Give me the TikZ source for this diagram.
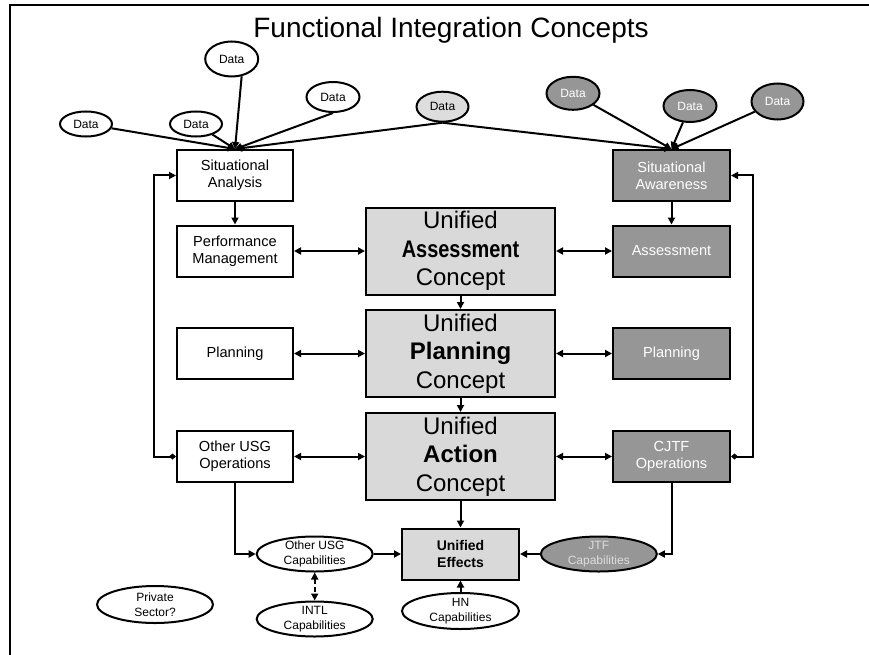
\documentclass[tikz,border=0pt]{standalone}
\usepackage{fontspec}
\usepackage{graphicx}
\setmainfont{Liberation Sans}
\usetikzlibrary{shapes.geometric,arrows.meta}
\definecolor{lgray}{RGB}{217,217,217}
\definecolor{dgray}{RGB}{150,150,150}
\definecolor{dlgray}{RGB}{221,221,221}
\begin{document}
\begin{tikzpicture}[x=1pt,y=-1pt,
  lw/.style={line width=2pt},
  box/.style={draw, lw, rectangle, inner sep=0pt, minimum width=116pt, minimum height=51pt, align=center, font=\fontsize{14.6}{17}\selectfont},
  wbox/.style={box, fill=white},
  gbox/.style={box, fill=dgray, text=white},
  cbox/.style={box, fill=lgray, minimum width=189pt, minimum height=87pt, font=\fontsize{24}{28.5}\selectfont},
  ell/.style={draw, lw, ellipse, inner xsep=0pt, inner ysep=-6pt, align=center, font=\fontsize{12}{15}\selectfont},
  data/.style={ell, fill=white, minimum width=52pt, minimum height=30pt},
  ddata/.style={data, fill=dgray, text=white},
  arr/.style={lw, -{Triangle[length=7pt,width=7pt]}},
  darr/.style={lw, {Triangle[length=7pt,width=7pt]}-{Triangle[length=7pt,width=7pt]}},
  farr/.style={lw, {Diamond[length=7pt,width=6pt]}-{Triangle[length=7pt,width=7pt]}},
]
\useasboundingbox (0,0) rectangle (869,655);
\draw[line width=2.5pt] (10,655) -- (10,5) -- (869,5);

\node[font=\fontsize{28}{32}\selectfont, anchor=base] (title) at (451,38) {Functional Integration Concepts};

% data ellipses
\node[data, minimum height=25pt] (d1) at (86,124) {Data};
\node[data, minimum height=25pt] (d2) at (196,124) {Data};
\node[data, minimum width=53pt, minimum height=35pt] (d3) at (231.7,59) {Data};
\node[data, minimum width=53pt] (d4) at (333,97) {Data};
\node[data, fill=dlgray] (d5) at (442.5,106.7) {Data};
\node[ddata, minimum width=53pt, minimum height=33pt] (d6) at (573,93.3) {Data};
\node[ddata, minimum width=53pt, minimum height=32pt] (d7) at (690,106) {Data};
\node[ddata, minimum height=36pt] (d8) at (777.5,101.5) {Data};

% left column
\node[wbox] (sa) at (235,175.5) {Situational\\Analysis};
\node[wbox] (pm) at (235,251) {Performance\\Management};
\node[wbox] (pl) at (235,353.5) {Planning};
\node[wbox] (ou) at (235,456.5) {Other USG\\Operations};

% right column
\node[gbox, minimum width=117pt] (saw) at (671.5,175.5) {Situational\\Awareness};
\node[gbox, minimum width=117pt] (asr) at (671.5,251) {Assessment};
\node[gbox, minimum width=117pt] (plr) at (671.5,353.5) {Planning};
\node[gbox, minimum width=117pt] (cj) at (671.5,456.5) {CJTF\\Operations};

% center column
\node[cbox] (ua) at (460.5,251) {Unified\\\scalebox{0.83}[1]{\bfseries Assessment}\\Concept};
\node[cbox] (up) at (460.5,353.5) {Unified\\{\bfseries Planning}\\Concept};
\node[cbox] (uac) at (460.5,456.5) {Unified\\{\bfseries Action}\\Concept};
\node[box, fill=lgray, minimum width=117pt, font=\fontsize{14}{16.7}\selectfont\bfseries] (ue) at (460.5,554) {Unified\\Effects};

% bottom ellipses
\node[ell, fill=white, minimum width=116pt, minimum height=35pt] (oc) at (314.7,554) {Other USG\\Capabilities};
\node[ell, fill=dgray, text=dlgray, minimum width=116pt, minimum height=35pt] (jc) at (598.8,554) {JTF\\Capabilities};
\node[ell, fill=white, minimum width=116pt, minimum height=35pt] (intl) at (314.7,619) {INTL\\Capabilities};
\node[ell, fill=white, minimum width=117pt, minimum height=36pt] (hn) at (460.5,611) {HN\\Capabilities};
\node[ell, fill=white, minimum width=116pt, minimum height=37pt] (ps) at (155,604.5) {Private\\Sector?};

% data connectors
\draw[arr] (d1) -- (sa.north);
\draw[arr] (d2) -- (sa.north);
\draw[arr] (d3.300) -- (sa.north);
\draw[arr] (d4.south) -- (sa.north);
\draw[arr] (d5.south) -- (sa.north);
\draw[arr] (d5.south) -- (saw.north);
\draw[arr] (d6) -- (saw.north);
\draw[arr] (d7) -- (saw.north);
\draw[arr] (d8) -- (saw.north);

% column connectors
\draw[arr] (sa) -- (pm);
\draw[arr] (saw) -- (asr);
\draw[darr] (pm) -- (ua);
\draw[darr] (ua) -- (asr);
\draw[darr] (pl) -- (up);
\draw[darr] (up) -- (plr);
\draw[darr] (ou) -- (uac);
\draw[darr] (uac) -- (cj);
\draw[arr] (ua) -- (up);
\draw[arr] (up) -- (uac);
\draw[arr] (uac) -- (ue);

% feedback loops
\draw[farr] (ou.west) -- ++(-22,0) |- (sa.west);
\draw[farr] (cj.east) -- ++(22,0) |- (saw.east);

% bottom connectors
\draw[arr] (ou.south) |- (oc.west);
\draw[arr] (oc) -- (ue);
\draw[arr] (cj.south) |- (jc.east);
\draw[arr] (jc) -- (ue);
\draw[arr] (hn) -- (ue);
\draw[darr, dash pattern=on 5pt off 3pt] (oc) -- (intl);
\end{tikzpicture}
\end{document}
